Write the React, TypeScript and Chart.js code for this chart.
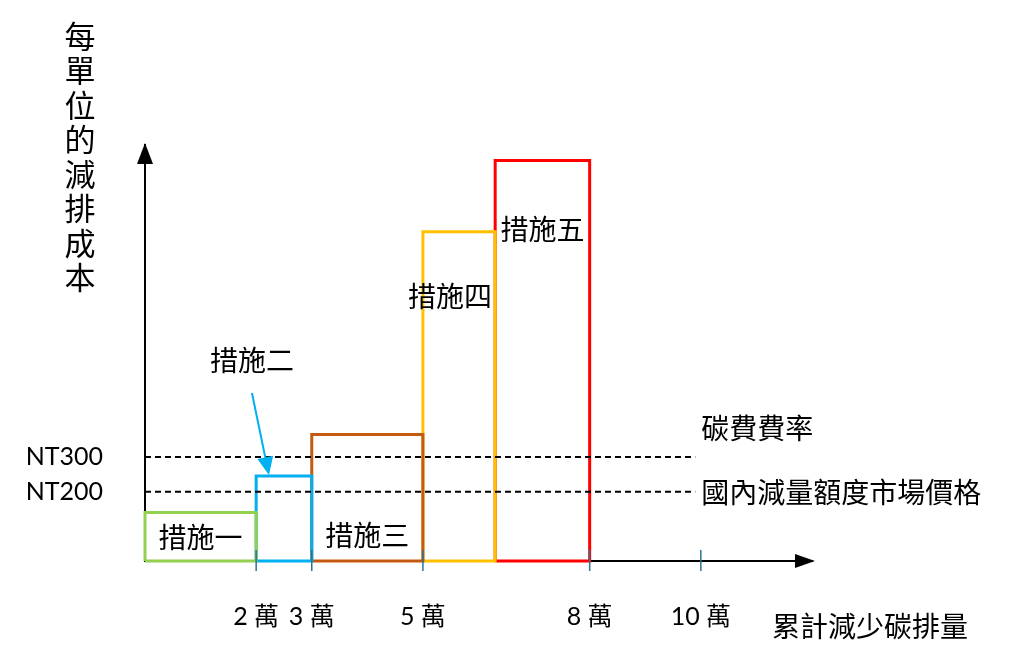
import React, { useEffect, useRef } from "react";
import { Chart, registerables } from "chart.js";

Chart.register(...registerables);

// ---- data ----
const measureNames = ["措施一", "措施二", "措施三", "措施四", "措施五"];
const measureStart = [0, 2, 3, 5, 6.3];
const measureEnd = [2, 3, 5, 6.3, 8];
const measureCost = [140, 245, 365, 950, 1155];
const measureColors = ["#92d050", "#00b0f0", "#c55a11", "#ffc000", "#ff0000"];

const xTickValues = [2, 3, 5, 8, 10];
const xTickUnit = "萬";
const yTickValues = [200, 300];
const yTickLabels = ["NT200", "NT300"];

const priceLineNames = ["碳費費率", "國內減量額度市場價格"];
const priceLineValues = [300, 200];
const priceLineEnd = 9.9;

const xAxisTitle = "累計減少碳排量";
const yAxisTitle = "每單位的減排成本";

const latin = "Lato, 'Noto Sans CJK TC', sans-serif";
const cjk = "'Noto Sans CJK TC', sans-serif";

const annotate = {
  id: "annotate",
  afterDraw(chart: any) {
    const { ctx } = chart;
    const x = chart.scales.x;
    const y = chart.scales.y;
    const x0 = x.getPixelForValue(0);
    const y0 = y.getPixelForValue(0);
    const yTop = y.getPixelForValue(y.max);
    const xEnd = x.getPixelForValue(x.max);
    ctx.save();

    // arrowheads
    ctx.fillStyle = "#000";
    ctx.beginPath();
    ctx.moveTo(x0, yTop - 2);
    ctx.lineTo(x0 - 8, yTop + 19);
    ctx.lineTo(x0 + 8, yTop + 19);
    ctx.closePath();
    ctx.fill();
    ctx.beginPath();
    ctx.moveTo(xEnd + 3, y0);
    ctx.lineTo(xEnd - 17, y0 - 7);
    ctx.lineTo(xEnd - 17, y0 + 7);
    ctx.closePath();
    ctx.fill();

    // tick marks
    ctx.strokeStyle = "#31708f";
    ctx.lineWidth = 1.5;
    xTickValues.forEach((v) => {
      const px = x.getPixelForValue(v);
      ctx.beginPath();
      ctx.moveTo(px, y0 - 11);
      ctx.lineTo(px, y0 + 10);
      ctx.stroke();
    });

    // measure labels
    ctx.fillStyle = "#000";
    ctx.font = `28px ${cjk}`;
    ctx.textAlign = "center";
    ctx.textBaseline = "middle";
    const offsets = [
      { dx: 0, mode: "bottom", dy: -24 },
      { dx: -32, mode: "top", dy: -116 },
      { dx: 0, mode: "bottom", dy: -26 },
      { dx: -9, mode: "top", dy: 65 },
      { dx: 0, mode: "top", dy: 69 },
    ];
    measureNames.forEach((name, i) => {
      const cx = x.getPixelForValue((measureStart[i] + measureEnd[i]) / 2) + offsets[i].dx;
      const base = offsets[i].mode === "bottom" ? y0 : y.getPixelForValue(measureCost[i]);
      ctx.fillText(name, cx, base + offsets[i].dy);
    });

    // arrow to measure two
    {
      const cx = x.getPixelForValue((measureStart[1] + measureEnd[1]) / 2);
      const top = y.getPixelForValue(measureCost[1]);
      const sx = cx - 32, sy = top - 83;
      const tx = cx - 15, ty = top - 1;
      ctx.strokeStyle = "#00b0f0";
      ctx.fillStyle = "#00b0f0";
      ctx.lineWidth = 2;
      const ang = Math.atan2(ty - sy, tx - sx);
      const hl = 18, hw = 8;
      const bx = tx - hl * Math.cos(ang), by = ty - hl * Math.sin(ang);
      ctx.beginPath();
      ctx.moveTo(sx, sy);
      ctx.lineTo(bx, by);
      ctx.stroke();
      ctx.beginPath();
      ctx.moveTo(tx, ty);
      ctx.lineTo(bx + hw * Math.sin(ang), by - hw * Math.cos(ang));
      ctx.lineTo(bx - hw * Math.sin(ang), by + hw * Math.cos(ang));
      ctx.closePath();
      ctx.fill();
    }

    // price line labels
    ctx.fillStyle = "#000";
    ctx.font = `28px ${cjk}`;
    ctx.textAlign = "left";
    const lx = x.getPixelForValue(priceLineEnd) + 6;
    ctx.fillText(priceLineNames[0], lx, y.getPixelForValue(priceLineValues[0]) - 29);
    ctx.fillText(priceLineNames[1], lx, y.getPixelForValue(priceLineValues[1]) + 1);

    // axis titles
    ctx.font = `28px ${cjk}`;
    ctx.textAlign = "left";
    ctx.fillText(xAxisTitle, 772, 626);
    ctx.font = `31px ${cjk}`;
    ctx.textAlign = "center";
    Array.from(yAxisTitle).forEach((ch, i) => {
      ctx.fillText(ch, 80, 36 + i * 34.5);
    });

    ctx.restore();
  },
};

export default function App() {
  const ref = useRef<HTMLCanvasElement | null>(null);

  useEffect(() => {
    if (!ref.current) return;
    const priceSets = priceLineValues.map((v, i) => ({
      label: priceLineNames[i],
      data: [
        { x: 0, y: v },
        { x: priceLineEnd, y: v },
      ],
      borderColor: "#000",
      borderWidth: 2,
      borderDash: [6, 4],
      showLine: true,
      pointRadius: 0,
      fill: false,
      order: 0,
      clip: false,
    }));
    const measureSets = measureNames.map((name, i) => ({
      label: name,
      data: [
        { x: measureStart[i], y: 0 },
        { x: measureStart[i], y: measureCost[i] },
        { x: measureEnd[i], y: measureCost[i] },
        { x: measureEnd[i], y: 0 },
        { x: measureStart[i], y: 0 },
      ],
      borderColor: measureColors[i],
      borderWidth: 3,
      borderJoinStyle: "miter",
      showLine: true,
      pointRadius: 0,
      fill: false,
      tension: 0,
      order: 1,
      clip: false,
    }));

    const chart = new Chart(ref.current, {
      type: "scatter",
      data: { datasets: [...priceSets, ...measureSets] as any },
      options: {
        animation: false,
        responsive: false,
        events: [],
        layout: { padding: { top: 145, right: 212, bottom: 0, left: 0 } },
        plugins: {
          legend: { display: false },
          tooltip: { enabled: false },
          title: { display: false },
        },
        scales: {
          x: {
            type: "linear",
            min: 0,
            max: 12,
            afterBuildTicks: (s: any) => {
              s.ticks = xTickValues.map((v) => ({ value: v }));
            },
            afterFit: (s: any) => {
              s.height = 100;
            },
            ticks: {
              callback: (v: any) => `${v} ${xTickUnit}`,
              font: { size: 25, family: latin },
              color: "#000",
              padding: 41,
              maxRotation: 0,
              autoSkip: false,
            },
            grid: { display: false, drawTicks: false },
            border: { display: true, color: "#000", width: 2 },
          },
          y: {
            type: "linear",
            min: 0,
            max: 1200,
            afterBuildTicks: (s: any) => {
              s.ticks = yTickValues.map((v) => ({ value: v }));
            },
            afterFit: (s: any) => {
              s.width = 145;
            },
            ticks: {
              callback: (v: any) => yTickLabels[yTickValues.indexOf(v)],
              font: { size: 25, family: latin },
              color: "#000",
              padding: 42,
              autoSkip: false,
            },
            grid: { display: false, drawTicks: false },
            border: { display: true, color: "#000", width: 2 },
          },
        },
      } as any,
      plugins: [annotate],
    });
    return () => chart.destroy();
  }, []);

  return (
    <div style={{ position: "fixed", left: 0, top: 0, width: 1024, height: 661, background: "#fff" }}>
      <canvas ref={ref} width={1024} height={661} style={{ display: "block" }} />
    </div>
  );
}
